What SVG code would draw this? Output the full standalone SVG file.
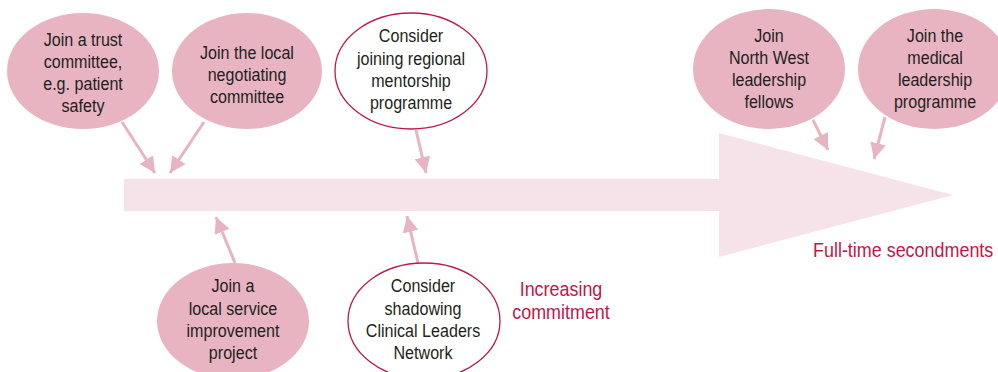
<svg xmlns="http://www.w3.org/2000/svg" width="998" height="372" viewBox="0 0 998 372">
<style>
.bg{fill:#ffffff}
.big{fill:#f6e3ea}
.pink{fill:#e8b4c2;stroke:none}
.open{fill:#ffffff;stroke:#c0174a;stroke-width:1.3}
.t{font-family:"Liberation Sans",Arial,sans-serif;font-size:18.5px;fill:#231f20;text-anchor:middle}
.r{font-family:"Liberation Sans",Arial,sans-serif;font-size:19.5px;fill:#c0174a}
.c{stroke:#e8b4c2;stroke-width:3;fill:none;marker-end:url(#ah)}
</style>
<defs>
<marker id="ah" markerUnits="userSpaceOnUse" markerWidth="18" markerHeight="16" refX="16" refY="8" orient="auto">
<path d="M0,0 L16,8 L0,16 Z" fill="#e8b4c2"/>
</marker>
</defs>
<rect class="bg" x="0" y="0" width="998" height="372"/>
<g id="timeline">
<path class="big" d="M124,179 H719 V133 L953,195 L719,257 V211 H124 Z"/>
</g>
<g id="connectors">
<line class="c" x1="122" y1="122" x2="155" y2="173"/>
<line class="c" x1="204" y1="122" x2="170" y2="173"/>
<line class="c" x1="416" y1="130" x2="426" y2="173"/>
<line class="c" x1="813" y1="120" x2="828" y2="150"/>
<line class="c" x1="885" y1="117" x2="874" y2="159"/>
<line class="c" x1="235" y1="263" x2="216" y2="217"/>
<line class="c" x1="418" y1="263" x2="407" y2="216"/>
</g>
<g id="n-trust">
<ellipse class="pink" cx="83" cy="71" rx="76" ry="58"/>
<g transform="translate(83 0) scale(0.87 1)">
<text class="t" x="0" y="46">Join a trust</text>
<text class="t" x="0" y="68">committee,</text>
<text class="t" x="0" y="90">e.g. patient</text>
<text class="t" x="0" y="112">safety</text>
</g>
</g>
<g id="n-local">
<ellipse class="pink" cx="247" cy="71" rx="75" ry="58"/>
<g transform="translate(247 0) scale(0.87 1)">
<text class="t" x="0" y="59">Join the local</text>
<text class="t" x="0" y="81">negotiating</text>
<text class="t" x="0" y="103">committee</text>
</g>
</g>
<g id="n-mentor">
<ellipse class="open" cx="411" cy="71" rx="76" ry="58"/>
<g transform="translate(411 0) scale(0.87 1)">
<text class="t" x="0" y="42">Consider</text>
<text class="t" x="0" y="65">joining regional</text>
<text class="t" x="0" y="87">mentorship</text>
<text class="t" x="0" y="109">programme</text>
</g>
</g>
<g id="n-northwest">
<ellipse class="pink" cx="769" cy="69" rx="76" ry="60"/>
<g transform="translate(769 0) scale(0.87 1)">
<text class="t" x="0" y="42">Join</text>
<text class="t" x="0" y="64">North West</text>
<text class="t" x="0" y="86">leadership</text>
<text class="t" x="0" y="108">fellows</text>
</g>
</g>
<g id="n-medical">
<ellipse class="pink" cx="934" cy="69" rx="76" ry="60"/>
<g transform="translate(935 0) scale(0.87 1)">
<text class="t" x="0" y="42">Join the</text>
<text class="t" x="0" y="64">medical</text>
<text class="t" x="0" y="86">leadership</text>
<text class="t" x="0" y="108">programme</text>
</g>
</g>
<g id="n-service">
<ellipse class="pink" cx="233" cy="321" rx="76" ry="58"/>
<g transform="translate(233 0) scale(0.87 1)">
<text class="t" x="0" y="292">Join a</text>
<text class="t" x="0" y="315">local service</text>
<text class="t" x="0" y="337">improvement</text>
<text class="t" x="0" y="359">project</text>
</g>
</g>
<g id="n-shadow">
<ellipse class="open" cx="424" cy="321" rx="76" ry="58"/>
<g transform="translate(423 0) scale(0.87 1)">
<text class="t" x="0" y="292">Consider</text>
<text class="t" x="0" y="315">shadowing</text>
<text class="t" x="0" y="337">Clinical Leaders</text>
<text class="t" x="0" y="359">Network</text>
</g>
</g>
<g id="labels">
<g transform="translate(561 0) scale(0.92 1)">
<text class="r" x="0" y="296" text-anchor="middle">Increasing</text>
<text class="r" x="0" y="319" text-anchor="middle">commitment</text>
</g>
<g transform="translate(813 0) scale(0.92 1)">
<text class="r" x="0" y="257">Full-time secondments</text>
</g>
</g>
</svg>
